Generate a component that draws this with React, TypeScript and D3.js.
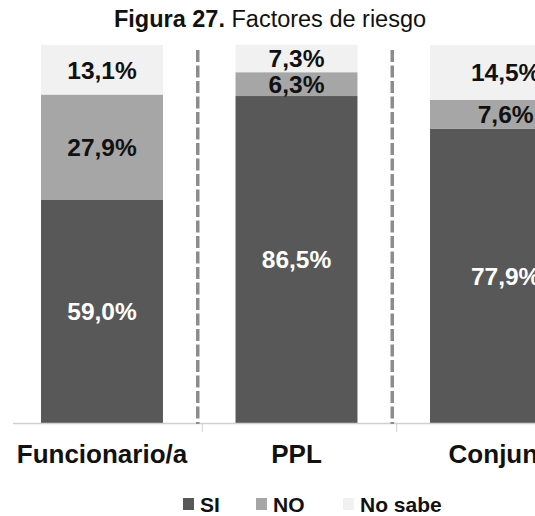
import React from "react";
import * as d3 from "d3";

const categories = ["Funcionario/a", "PPL", "Conjunto"];
const seriesNames = ["SI", "NO", "No sabe"];
const siValues = [59.0, 86.5, 77.9];
const noValues = [27.9, 6.3, 7.6];
const noSabeValues = [13.1, 7.3, 14.5];
const yMax = 100;

const W = 535;
const H = 516;
const FONT = "'Liberation Sans', Arial, Helvetica, sans-serif";
const colors = ["#585858", "#a6a6a6", "#f1f1f1"];
const labelColors = ["#ffffff", "#111111", "#111111"];

export default function App() {
  const x = d3
    .scaleBand<string>()
    .domain(categories)
    .range([4.75, 4.75 + 194.5 * 3])
    .paddingInner(0.373)
    .paddingOuter(0.1865);
  const y = d3.scaleLinear().domain([0, yMax]).range([423, 45]);

  const rows = categories.map((c, i) => ({
    cat: c,
    SI: siValues[i],
    NO: noValues[i],
    "No sabe": noSabeValues[i],
  }));
  const stacked = d3.stack<any>().keys(seriesNames)(rows);

  // the last column is cut by the frame and drawn a little wider
  const barW = (i: number) => (i === categories.length - 1 ? x.bandwidth() * 1.24 : x.bandwidth());
  const cx = (i: number) => (x(categories[i]) as number) + barW(i) / 2;

  const boundaries = categories.slice(1).map((c) => (x(c) as number) - (x.step() - x.bandwidth()) / 2);
  const fmt = (v: number) => v.toFixed(1).replace(".", ",") + "%";

  const legendX = [183, 256, 343];

  return (
    <svg
      width={W}
      height={H}
      style={{ position: "absolute", left: 0, top: 0, background: "#fff" }}
      fontFamily={FONT}
    >
      <rect x={0} y={0} width={W} height={H} fill="#fff" />
      <text x={270} y={27} textAnchor="middle" fontSize={23.5} fill="#111">
        <tspan fontWeight="bold">Figura 27.</tspan>
        <tspan> Factores de riesgo</tspan>
      </text>

      {stacked.map((s, si) => (
        <g key={s.key}>
          {s.map((d, i) => (
            <rect
              key={i}
              x={x(categories[i])}
              y={y(d[1])}
              width={barW(i)}
              height={y(d[0]) - y(d[1])}
              fill={colors[si]}
            />
          ))}
        </g>
      ))}

      <line x1={13} x2={W} y1={423.5} y2={423.5} stroke="#d0d0d0" strokeWidth={1.5} />
      {boundaries.map((b, i) => (
        <g key={i}>
          <line x1={b - 1.5} x2={b - 1.5} y1={50} y2={424} stroke="#8c8c8c" strokeWidth={3.5} strokeDasharray="12 3.5" />
          <line x1={b + 3} x2={b + 3} y1={424} y2={432} stroke="#cfcfcf" strokeWidth={1} />
        </g>
      ))}

      {stacked.map((s, si) => (
        <g key={"l" + s.key}>
          {s.map((d, i) => (
            <text
              key={i}
              x={cx(i)}
              y={(y(d[0]) + y(d[1])) / 2}
              dy="0.36em"
              textAnchor="middle"
              fontSize={24.5}
              fontWeight="bold"
              fill={labelColors[si]}
            >
              {fmt(d[1] - d[0])}
            </text>
          ))}
        </g>
      ))}

      {categories.map((c, i) => (
        <text
          key={c}
          x={cx(i)}
          y={463}
          textAnchor="middle"
          fontSize={26}
          fontWeight="bold"
          fill="#111"
        >
          {c}
        </text>
      ))}

      {seriesNames.map((n, i) => (
        <g key={n}>
          <rect x={legendX[i]} y={498} width={11} height={12} fill={colors[i]} />
          <text x={legendX[i] + 17} y={512} fontSize={21} fontWeight="bold" fill="#111">
            {n}
          </text>
        </g>
      ))}
    </svg>
  );
}
